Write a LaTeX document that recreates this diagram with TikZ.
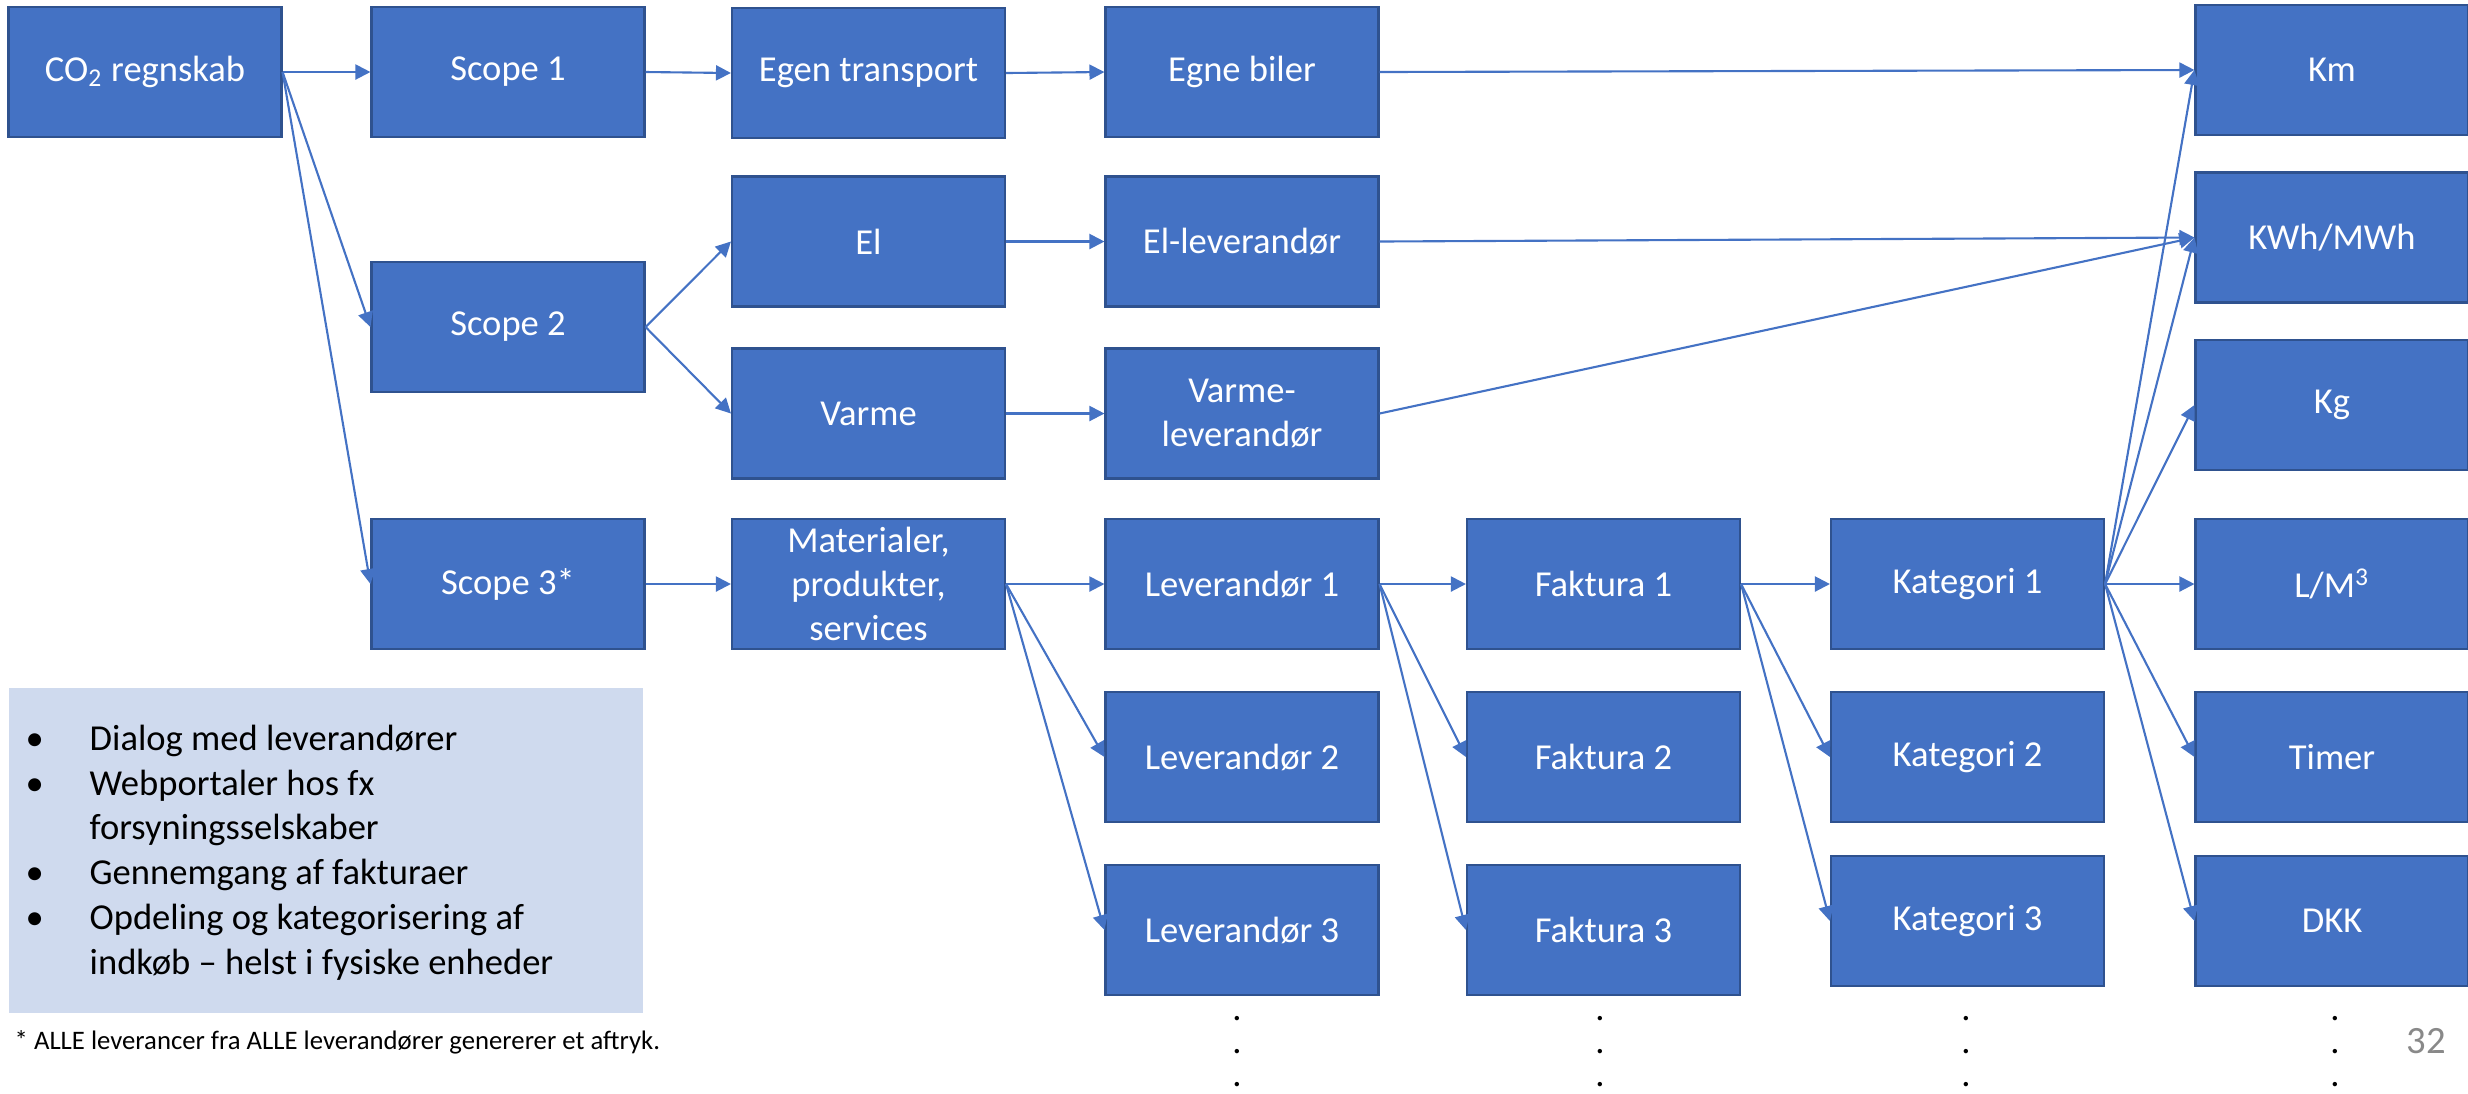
\documentclass[tikz,border=0pt]{standalone}
\usepackage{fontspec}
\setmainfont{Carlito}
\usetikzlibrary{arrows.meta}
\definecolor{blokfyld}{HTML}{4472C4}
\definecolor{blokkant}{HTML}{2F528F}
\definecolor{lysblaa}{HTML}{CFDAEE}
\definecolor{sidenr}{HTML}{898989}

\begin{document}
\begin{tikzpicture}[
  blok/.style={draw=blokkant, line width=0.6pt, fill=blokfyld, text=white,
    minimum width=2.73cm, minimum height=1.30cm, inner sep=0pt, align=center,
    font=\fontsize{10.4}{12.5}\selectfont},
  pil/.style={draw=blokfyld, line width=0.6pt, -{Triangle[length=1.5mm,width=1.5mm]}},
  prikker/.style={align=center, inner sep=0pt, font=\fontsize{10.4}{9.4}\selectfont}
]
\useasboundingbox (0,0) rectangle (24.68,-10.93);

% kasse med punkter
\fill[lysblaa] (0.09,-6.88) rectangle (6.43,-10.13);
\node (punkter) [anchor=base west, inner sep=0pt, font=\fontsize{10.4}{12.8}\selectfont] at (0.25,-7.50)
  {\begin{tabular}[t]{@{}p{0.64cm}@{}l@{}}
   \textbullet & Dialog med leverandører\\
   \textbullet & Webportaler hos fx\\
               & forsyningsselskaber\\
   \textbullet & Gennemgang af fakturaer\\
   \textbullet & Opdeling og kategorisering af\\
               & indkøb – helst i fysiske enheder
   \end{tabular}};
\node (fodnote) [anchor=base west, inner sep=0pt, font=\fontsize{7.6}{9}\selectfont] at (0.14,-10.49)
  {* ALLE leverancer fra ALLE leverandører genererer et aftryk.};

% kolonne 1-3
\node[blok] (co2) at (1.45,-0.72) {CO\textsubscript{2} regnskab};
\node[blok] (scope1) at (5.08,-0.72) {Scope 1};
\node[blok] (scope2) at (5.08,-3.27) {Scope 2};
\node[blok] (scope3) at (5.08,-5.84) {Scope 3*};
\node[blok] (egen) at (8.685,-0.73) {Egen transport};
\node[blok] (el) at (8.685,-2.415) {El};
\node[blok] (varme) at (8.685,-4.135) {Varme};
\node[blok] (mat) at (8.685,-5.84) {Materialer,\\produkter,\\services};

% kolonne 4-6
\node[blok] (egne) at (12.42,-0.72) {Egne biler};
\node[blok] (ellev) at (12.42,-2.415) {El-leverandør};
\node[blok] (varmelev) at (12.42,-4.135) {Varme-\\leverandør};
\foreach \i/\y in {1/-5.84, 2/-7.57, 3/-9.30} {
  \node[blok] (lev\i) at (12.42,\y) {Leverandør \i};
  \node[blok] (fak\i) at (16.035,\y) {Faktura \i};
}
\node[blok] (kat1) at (19.675,-5.84) {Kategori 1};
\node[blok] (kat2) at (19.675,-7.57) {Kategori 2};
\node[blok] (kat3) at (19.675,-9.21) {Kategori 3};

% enheder
\node[blok] (km) at (23.32,-0.70) {Km};
\node[blok] (kwh) at (23.32,-2.375) {KWh/MWh};
\node[blok] (kg) at (23.32,-4.05) {Kg};
\node[blok] (lm) at (23.32,-5.84) {L/M\textsuperscript{3}};
\node[blok] (timer) at (23.32,-7.57) {Timer};
\node[blok] (dkk) at (23.32,-9.21) {DKK};

\foreach \a/\b in {co2/scope1, co2/scope2, co2/scope3, scope1/egen, egen/egne, egne/km,
                   scope2/el, scope2/varme, el/ellev, ellev/kwh, varme/varmelev, varmelev/kwh,
                   scope3/mat, mat/lev1, mat/lev2, mat/lev3, lev1/fak1, lev1/fak2, lev1/fak3,
                   fak1/kat1, fak1/kat2, fak1/kat3}
  \draw[pil] (\a.east) -- (\b.west);
\foreach \b in {km, kwh, kg, lm, timer, dkk}
  \draw[pil] (kat1.east) -- (\b.west);

\node[prikker] (prikA) at (12.37,-10.52) {.\\.\\.};
\node[prikker] (prikB) at (16.00,-10.52) {.\\.\\.};
\node[prikker] (prikC) at (19.66,-10.52) {.\\.\\.};
\node[prikker] (prikD) at (23.35,-10.52) {.\\.\\.};
\node (sidetal) [text=sidenr, font=\fontsize{11}{13}\selectfont] at (24.26,-10.41) {32};
\end{tikzpicture}
\end{document}
